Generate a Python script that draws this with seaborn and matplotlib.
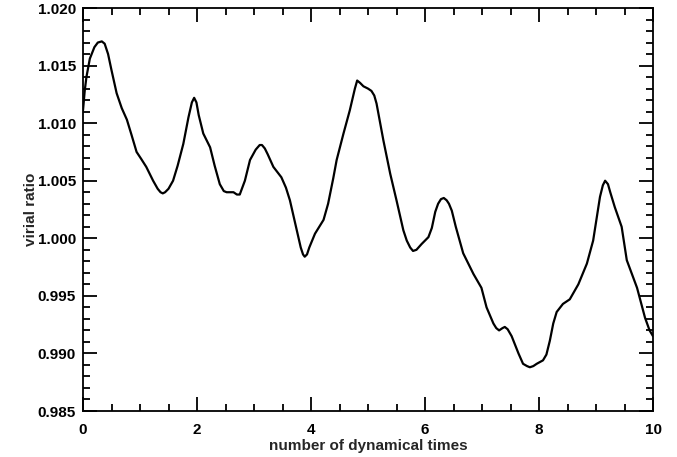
import matplotlib
matplotlib.use("Agg")
import matplotlib.pyplot as plt
import seaborn as sns
import pandas as pd
from matplotlib.ticker import MultipleLocator

times = [0.00, 0.03, 0.06, 0.12, 0.20, 0.26, 0.33, 0.38, 0.44, 0.50, 0.59, 0.68, 0.77, 0.85, 0.94,
         1.02, 1.11, 1.23, 1.31, 1.36, 1.40, 1.44, 1.50, 1.58, 1.66, 1.76, 1.85, 1.91, 1.95, 1.99, 2.03,
         2.11, 2.23, 2.31, 2.40, 2.47, 2.52, 2.58, 2.64, 2.70, 2.75, 2.84, 2.93, 3.03, 3.10, 3.14, 3.19, 3.24,
         3.34, 3.48, 3.56, 3.63, 3.75, 3.82, 3.86, 3.89, 3.93, 3.97, 4.07, 4.22, 4.30, 4.39,
         4.45, 4.57, 4.68, 4.77, 4.81, 4.86, 4.92, 5.00, 5.06, 5.11, 5.15, 5.27, 5.39, 5.50, 5.62, 5.68,
         5.74, 5.79, 5.85, 5.94, 6.06, 6.12, 6.18, 6.23, 6.28, 6.33, 6.38, 6.42, 6.47, 6.54, 6.67, 6.85, 6.99,
         7.08, 7.20, 7.25, 7.30, 7.36, 7.40, 7.45, 7.52, 7.64, 7.72, 7.79, 7.84, 7.90, 7.96, 8.07, 8.13, 8.19,
         8.25, 8.31, 8.42, 8.54, 8.69, 8.84, 8.95, 9.02, 9.07, 9.12, 9.16, 9.21, 9.25, 9.33, 9.45, 9.54,
         9.63, 9.72, 9.86, 9.94, 10.00]
virial = [1.0111, 1.0128, 1.0140, 1.0156, 1.0166, 1.0170, 1.0171, 1.0169, 1.0160, 1.0146, 1.0126, 1.0113, 1.0103, 1.0090, 1.0075,
          1.0069, 1.0062, 1.0050, 1.0043, 1.0040, 1.0039, 1.0040, 1.0043, 1.0050, 1.0063, 1.0082, 1.0105, 1.0118, 1.0122, 1.0118, 1.0107,
          1.0091, 1.0079, 1.0063, 1.0047, 1.0041, 1.0040, 1.0040, 1.0040, 1.0038, 1.0038, 1.0050, 1.0068, 1.0077, 1.0081, 1.0081, 1.0078, 1.0073,
          1.0062, 1.0053, 1.0044, 1.0033, 1.0007, 0.9992, 0.9986, 0.9984, 0.9986, 0.9992, 1.0004, 1.0016, 1.0030, 1.0052,
          1.0068, 1.0091, 1.0111, 1.0130, 1.0137, 1.0135, 1.0132, 1.0130, 1.0128, 1.0124, 1.0117, 1.0085, 1.0056, 1.0033, 1.0007, 0.9998,
          0.9992, 0.9989, 0.9990, 0.9995, 1.0001, 1.0009, 1.0023, 1.0030, 1.0034, 1.0035, 1.0033, 1.0030, 1.0024, 1.0010, 0.9987, 0.9969, 0.9957,
          0.9940, 0.9926, 0.9922, 0.9920, 0.9922, 0.9923, 0.9921, 0.9915, 0.9900, 0.9891, 0.9889, 0.9888, 0.9889, 0.9891, 0.9894, 0.9899, 0.9911,
          0.9926, 0.9936, 0.9943, 0.9947, 0.9960, 0.9978, 0.9998, 1.0020, 1.0036, 1.0046, 1.0050, 1.0047, 1.0040, 1.0027, 1.0010, 0.9981,
          0.9969, 0.9957, 0.9931, 0.9920, 0.9915]

xticks = [0, 2, 4, 6, 8, 10]
yticks = [0.985, 0.990, 0.995, 1.000, 1.005, 1.010, 1.015, 1.020]

sns.set_theme(style="ticks")
plt.rcParams['font.family'] = ['Liberation Sans', 'DejaVu Sans']
plt.rcParams['font.weight'] = 'bold'

df = pd.DataFrame({"t": times, "v": virial})

fig = plt.figure(figsize=(6.77, 4.57), dpi=100)
ax = fig.add_axes([83/677, 1 - 411/457, (653 - 83)/677, (411 - 8)/457])
sns.lineplot(data=df, x="t", y="v", ax=ax, color="black", linewidth=1.6, sort=False)
for ln in ax.get_lines():
    ln.set_solid_joinstyle("round")
    ln.set_solid_capstyle("round")

ax.set_xlim(0, 10)
ax.set_ylim(0.985, 1.020)
ax.set_xticks(xticks)
ax.set_xticklabels([str(x) for x in xticks])
ax.set_yticks(yticks)
ax.set_yticklabels([f"{y:.3f}" for y in yticks])
ax.xaxis.set_minor_locator(MultipleLocator(0.5))
ax.yaxis.set_minor_locator(MultipleLocator(0.001))
ax.tick_params(which="both", direction="in", top=True, right=True, width=1.3, colors="black",
               labelsize=11)
ax.tick_params(axis="x", which="major", pad=9)
ax.tick_params(axis="y", which="major", pad=5)
ax.tick_params(which="major", length=10)
ax.tick_params(which="minor", length=5)
for lab in ax.get_xticklabels() + ax.get_yticklabels():
    lab.set_fontweight("bold")
for sp in ax.spines.values():
    sp.set_linewidth(1.3)
    sp.set_color("black")

ax.set_xlabel("number of dynamical times", fontsize=11, fontweight="bold", labelpad=1)
ax.set_ylabel("virial ratio", fontsize=11, fontweight="bold", labelpad=0)

fig.savefig("out.png", dpi=100)
